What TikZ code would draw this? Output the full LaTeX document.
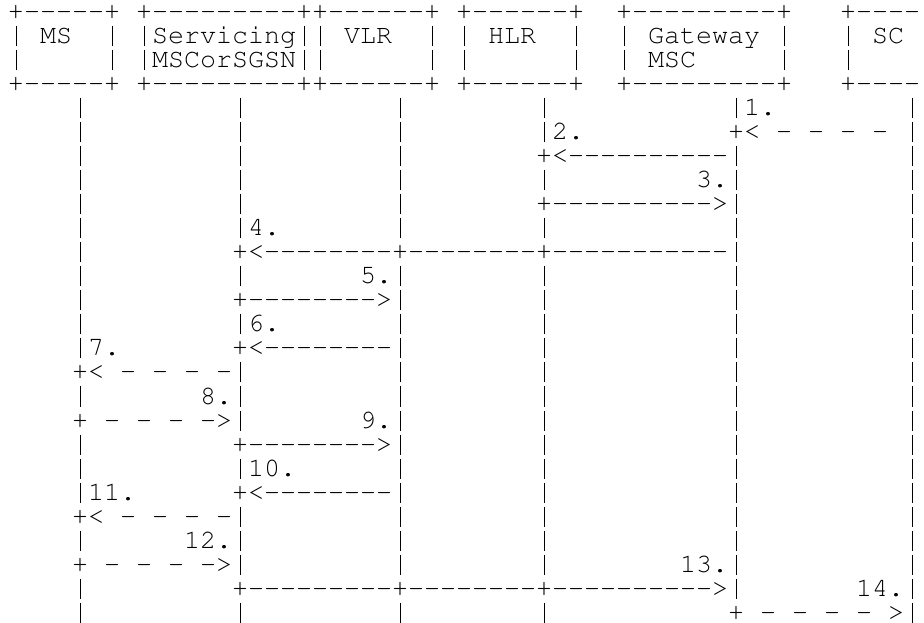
\documentclass[tikz,border=0pt]{standalone}
\usepackage[T1]{fontenc}
\usepackage{courier}
\frenchspacing
\tikzset{
  asc/.style={inner sep=0pt, outer sep=0pt, anchor=base west,
    font=\fontsize{26.67pt}{24pt}\selectfont\ttfamily},
  vbar/.style={draw=black, line width=0.9pt}
}
% n hyphens, no ligatures
\newcommand\dd[1]{\ifnum#1>0 -\kern0pt\expandafter\dd\expandafter{\the\numexpr#1-1\relax}\fi}
% text at row r, column c: one character cell is 16 x 24
\newcommand\mytxt[3]{\node[asc] (r#1c#2) at ({16*#2-8},{602-24*#1}) {#3};}
% vertical bar character cell at row r, column c
\newcommand\vb[2]{\draw[vbar] ({16*#2},{619.5-24*#1}) -- ({16*#2},{599.5-24*#1});}
\begin{document}
\begin{tikzpicture}[x=1pt,y=1pt]
\fill[white] (0,0) rectangle (924,622);
\useasboundingbox (0,0) rectangle (924,622);
\clip (0,0) rectangle (924,622);
% header boxes
\foreach \r in {0,3}{
  \mytxt{\r}{1}{+\dd5+}
  \mytxt{\r}{9}{+\dd9++\dd6+}
  \mytxt{\r}{29}{+\dd6+}
  \mytxt{\r}{39}{+\dd9+}
  \mytxt{\r}{53}{+\dd4}
}
\foreach \r in {1,2}{
  \foreach \c in {1,7,9,19,20,27,29,36,39,49,53}{\vb{\r}{\c}}
}
\mytxt{1}{3}{MS}
\mytxt{1}{10}{Servicing}
\mytxt{1}{22}{VLR}
\mytxt{1}{31}{HLR}
\mytxt{1}{41}{Gateway}
\mytxt{1}{55}{SC}
\mytxt{2}{10}{MSCorSGSN}
\mytxt{2}{41}{MSC}
% lifelines
\foreach \r in {4,...,14,16,18,19,20,22,24,25}{\vb{\r}{5}}
\foreach \r in {4,...,9,11,13,15,16,17,19,21,22,23,25}{\vb{\r}{15}}
\foreach \r in {4,...,9,11,12,...,23,25}{\vb{\r}{25}}
\foreach \r in {4,5,7,9,11,12,...,23,25}{\vb{\r}{34}}
\foreach \r in {4,6,7,...,24}{\vb{\r}{46}}
\foreach \r in {4,...,25}{\vb{\r}{57}}
% messages
\mytxt{4}{47}{1.}
\mytxt{5}{35}{2.}
\mytxt{5}{46}{+<~-~-~-~-}
\mytxt{6}{34}{+<\dd{10}}
\mytxt{7}{44}{3.}
\mytxt{8}{34}{+\dd{10}>}
\mytxt{9}{16}{4.}
\mytxt{10}{15}{+<\dd8+\dd8+\dd{11}}
\mytxt{11}{23}{5.}
\mytxt{12}{15}{+\dd8>}
\mytxt{13}{16}{6.}
\mytxt{14}{6}{7.}
\mytxt{14}{15}{+<\dd8}
\mytxt{15}{5}{+<~-~-~-~-}
\mytxt{16}{13}{8.}
\mytxt{17}{5}{+~-~-~-~->}
\mytxt{17}{23}{9.}
\mytxt{18}{15}{+\dd8>}
\mytxt{19}{16}{10.}
\mytxt{20}{6}{11.}
\mytxt{20}{15}{+<\dd8}
\mytxt{21}{5}{+<~-~-~-~-}
\mytxt{22}{12}{12.}
\mytxt{23}{5}{+~-~-~-~->}
\mytxt{23}{43}{13.}
\mytxt{24}{15}{+\dd9+\dd8+\dd{10}>}
\mytxt{24}{54}{14.}
\mytxt{25}{46}{+~-~-~-~-~>}
\end{tikzpicture}
\end{document}
